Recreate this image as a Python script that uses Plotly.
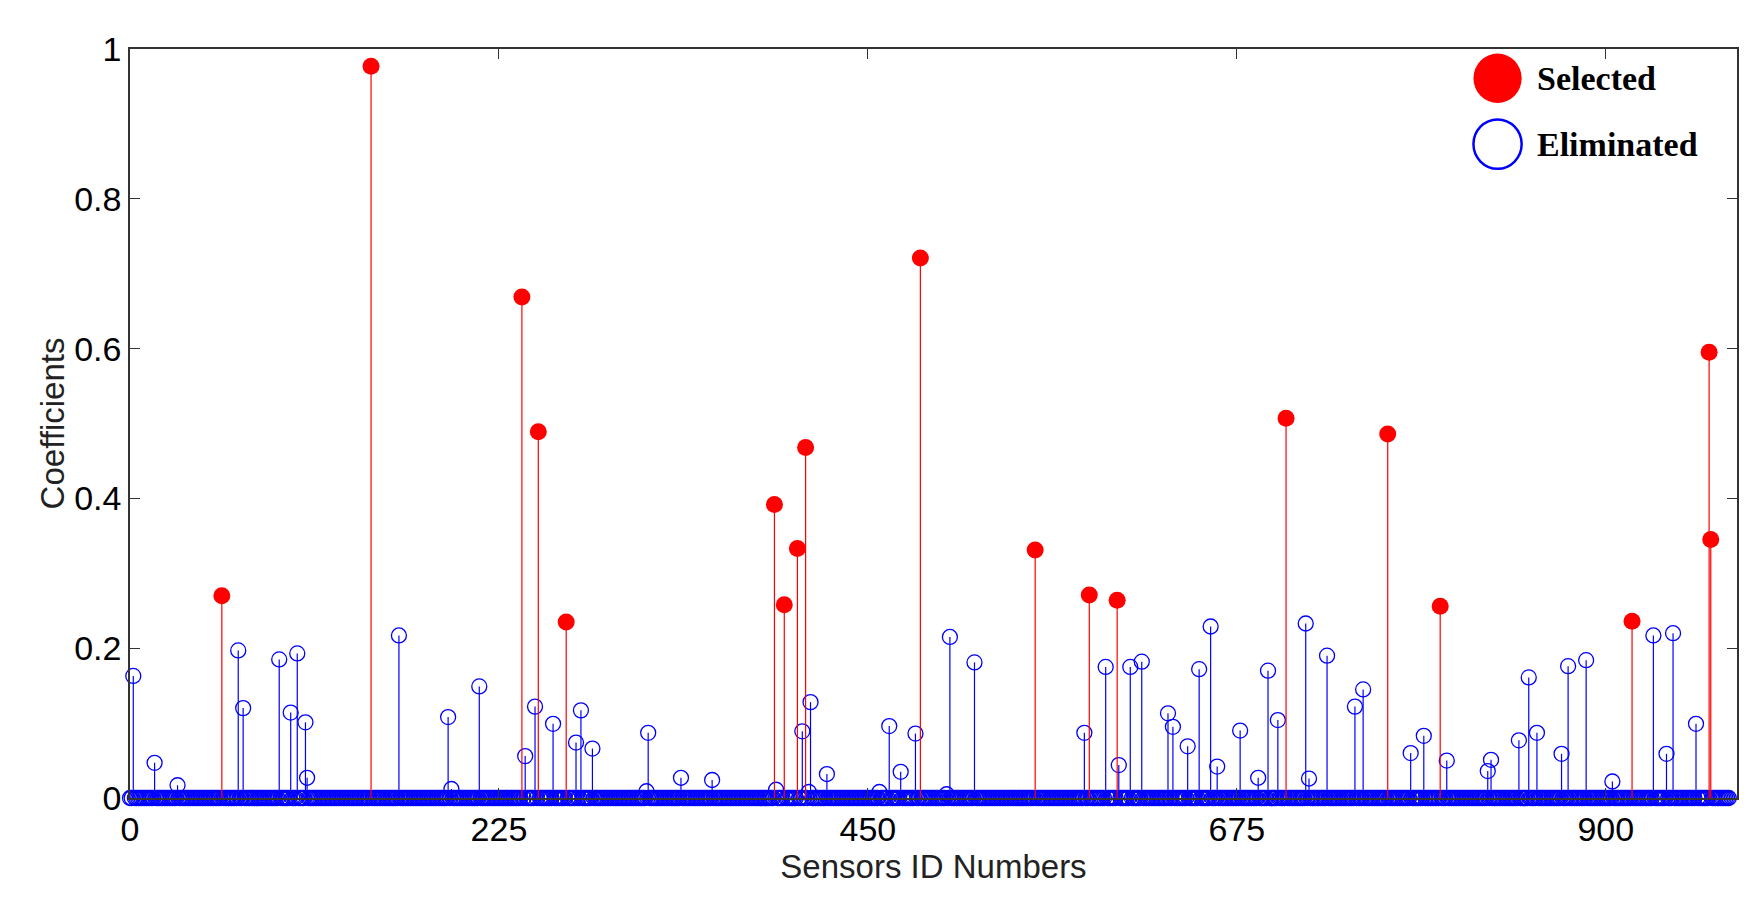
import plotly.graph_objects as go

N_SENSORS = 976
sel_ids = [56,147,239,249,266,393,399,407,412,482,552,585,602,705,767,799,916,963,964]
sel_vals = [0.27,0.977,0.669,0.489,0.235,0.392,0.258,0.333,0.468,0.721,0.331,0.271,0.264,0.507,0.486,0.256,0.236,0.595,0.345]
elim_ids = [2,15,29,66,69,91,98,102,107,108,164,194,196,213,241,247,258,272,275,282,316,315,336,355,394,410,415,414,425,457,463,470,479,500,498,515,582,595,603,610,617,633,636,645,652,659,663,677,688,694,700,717,719,730,747,752,781,789,803,828,830,847,853,858,873,877,888,904,929,937,941,955]
elim_vals = [0.163,0.047,0.017,0.197,0.12,0.185,0.114,0.193,0.101,0.027,0.217,0.108,0.012,0.149,0.056,0.122,0.099,0.074,0.117,0.066,0.087,0.009,0.027,0.024,0.011,0.089,0.128,0.008,0.032,0.008,0.096,0.035,0.086,0.215,0.005,0.181,0.087,0.175,0.044,0.175,0.182,0.113,0.095,0.069,0.172,0.229,0.042,0.09,0.027,0.17,0.104,0.233,0.026,0.19,0.122,0.145,0.06,0.083,0.05,0.036,0.051,0.077,0.161,0.087,0.059,0.176,0.184,0.022,0.217,0.059,0.22,0.099]
x_ticks = [0,225,450,675,900]
y_ticks = [0,0.2,0.4,0.6,0.8,1]
y_labels = ["0","0.2","0.4","0.6","0.8","1"]

elim_map = dict(zip(elim_ids, elim_vals))
sel_set = set(sel_ids)
all_ids = [i for i in range(N_SENSORS) if i not in sel_set]
all_vals = [elim_map.get(i, 0.0) for i in all_ids]

def stems(ids, vals):
    xs, ys = [], []
    for i, v in zip(ids, vals):
        if v > 0:
            xs += [i, i, None]; ys += [0, v, None]
    return xs, ys

fig = go.Figure()
bx, by = stems(all_ids, all_vals)
fig.add_trace(go.Scatter(x=bx, y=by, mode="lines", line=dict(color="blue", width=1.2), showlegend=False))
fig.add_trace(go.Scatter(x=all_ids, y=all_vals, mode="markers", cliponaxis=False,
    marker=dict(symbol="circle-open", size=15, color="blue", line=dict(width=1.3)), showlegend=False))
rx, ry = stems(sel_ids, sel_vals)
fig.add_trace(go.Scatter(x=rx, y=ry, mode="lines", line=dict(color="red", width=1.2), showlegend=False))
fig.add_trace(go.Scatter(x=sel_ids, y=sel_vals, mode="markers", cliponaxis=False,
    marker=dict(symbol="circle", size=17, color="red"), showlegend=False))

# legend drawn manually (paper coords = plot area)
fig.add_shape(type="circle", xref="paper", yref="paper", x0=0.836, x1=0.866, y0=0.928, y1=0.994, fillcolor="red", line=dict(color="red", width=0))
fig.add_shape(type="circle", xref="paper", yref="paper", x0=0.836, x1=0.866, y0=0.840, y1=0.906, line=dict(color="blue", width=2.5))
fig.add_annotation(xref="paper", yref="paper", x=0.874, y=0.961, text="<b>Selected</b>", showarrow=False, xanchor="left", yanchor="middle",
    font=dict(family="Liberation Serif", size=34, color="black"))
fig.add_annotation(xref="paper", yref="paper", x=0.874, y=0.872, text="<b>Eliminated</b>", showarrow=False, xanchor="left", yanchor="middle",
    font=dict(family="Liberation Serif", size=34, color="black"))

ax = dict(showline=True, linecolor="#333", linewidth=1.5, mirror="ticks", ticks="inside", ticklen=10,
          tickcolor="#333", showgrid=False, zeroline=False, tickfont=dict(size=34, color="black"))
fig.update_xaxes(**ax, range=[0, 980], tickvals=x_ticks, title=dict(text="Sensors ID Numbers", font=dict(size=33, color="#222"), standoff=4))
fig.update_yaxes(**ax, range=[0, 1], tickvals=y_ticks, ticktext=y_labels, title=dict(text="Coefficients", font=dict(size=33, color="#222"), standoff=0))
fig.update_layout(width=1764, height=909, margin=dict(l=122, r=35, t=41, b=119),
    plot_bgcolor="white", paper_bgcolor="white", font=dict(family="Liberation Sans"))
fig.write_html("out.html")
